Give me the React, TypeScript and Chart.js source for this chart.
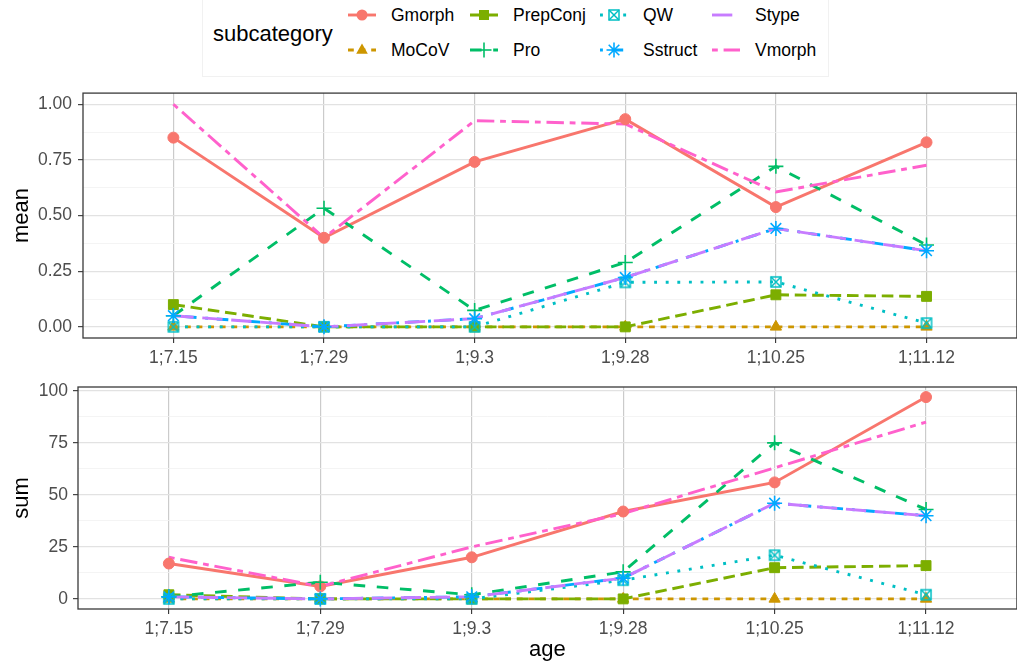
import React, { useEffect, useRef } from 'react';
import { Chart, registerables } from 'chart.js';

Chart.register(...registerables);

// ---- data -------------------------------------------------------------
const ages = ['1;7.15', '1;7.29', '1;9.3', '1;9.28', '1;10.25', '1;11.12'];
const subcategories = ['Gmorph', 'MoCoV', 'PrepConj', 'Pro', 'QW', 'Sstruct', 'Stype', 'Vmorph'];

// mean per age
const gmorphMean = [0.85, 0.4, 0.741, 0.933, 0.538, 0.829];
const mocovMean = [0, 0, 0, 0, 0, 0];
const prepConjMean = [0.1, 0, 0, 0, 0.144, 0.137];
const proMean = [0.05, 0.533, 0.074, 0.289, 0.721, 0.368];
const qwMean = [0, 0, 0, 0.2, 0.202, 0.017];
const sstructMean = [0.05, 0, 0.037, 0.222, 0.442, 0.342];
const stypeMean = [0.05, 0, 0.037, 0.222, 0.442, 0.342];
const vmorphMean = [1.0, 0.4, 0.926, 0.911, 0.606, 0.726];

// sum per age
const gmorphSum = [17, 6, 20, 42, 56, 97];
const mocovSum = [0, 0, 0, 0, 0, 0];
const prepConjSum = [2, 0, 0, 0, 15, 16];
const proSum = [1, 8, 2, 13, 75, 43];
const qwSum = [0, 0, 0, 9, 21, 2];
const sstructSum = [1, 0, 1, 10, 46, 40];
const stypeSum = [1, 0, 1, 10, 46, 40];
const vmorphSum = [20, 6, 25, 41, 63, 85];

const meanTicks = [0, 0.25, 0.5, 0.75, 1];
const sumTicks = [0, 25, 50, 75, 100];

const meanSeries = [gmorphMean, mocovMean, prepConjMean, proMean, qwMean, sstructMean, stypeMean, vmorphMean];
const sumSeries = [gmorphSum, mocovSum, prepConjSum, proSum, qwSum, sstructSum, stypeSum, vmorphSum];

// ---- styling ----------------------------------------------------------
const FONT = '"Liberation Sans", Arial, Helvetica, sans-serif';
const colors = ['#F8766D', '#CD9600', '#7CAE00', '#00BE67', '#00BFC4', '#00A9FF', '#C77CFF', '#FF61CC'];
const LW = 2.9;
const dashUnits = [[], [2, 2], [4, 2], [4, 4], [1, 3], [1, 3, 4, 3], [7, 3], [2, 2, 6, 2]];
const dashes = dashUnits.map((p) => p.map((d) => d * LW));
const shapes = ['circle', 'triangle', 'rect', 'cross', 'boxX', 'star', null, null];

function makeBoxX(color: string): HTMLCanvasElement {
  const c = document.createElement('canvas');
  c.width = 14;
  c.height = 14;
  const g = c.getContext('2d')!;
  g.strokeStyle = color;
  g.lineWidth = 1.5;
  g.strokeRect(2, 2, 10, 10);
  g.beginPath();
  g.moveTo(2, 2);
  g.lineTo(12, 12);
  g.moveTo(12, 2);
  g.lineTo(2, 12);
  g.stroke();
  return c;
}

function pointOptions(shape: string | null, color: string, boxImg: HTMLCanvasElement) {
  switch (shape) {
    case 'circle':
      return { pointStyle: 'circle', pointRadius: 5.5, pointBackgroundColor: color, pointBorderColor: color, pointBorderWidth: 1 };
    case 'triangle':
      return { pointStyle: 'triangle', pointRadius: 6.5, pointBackgroundColor: color, pointBorderColor: color, pointBorderWidth: 1 };
    case 'rect':
      return { pointStyle: 'rect', pointRadius: 7, pointBackgroundColor: color, pointBorderColor: color, pointBorderWidth: 1 };
    case 'cross':
      return { pointStyle: 'cross', pointRadius: 7.5, pointBackgroundColor: 'rgba(0,0,0,0)', pointBorderColor: color, pointBorderWidth: 1.6 };
    case 'boxX':
      return { pointStyle: boxImg, pointRadius: 6, pointBackgroundColor: color, pointBorderColor: color, pointBorderWidth: 1 };
    case 'star':
      return { pointStyle: 'star', pointRadius: 7.5, pointBackgroundColor: 'rgba(0,0,0,0)', pointBorderColor: color, pointBorderWidth: 1.6 };
    default:
      return null;
  }
}

function buildDatasets(series: number[][], boxImg: HTMLCanvasElement) {
  const lines = series.map((vals, i) => ({
    label: subcategories[i],
    data: vals.map((v, k) => ({ x: k, y: v })),
    borderColor: colors[i],
    borderWidth: LW,
    borderDash: dashes[i],
    borderCapStyle: 'butt',
    pointRadius: 0,
    tension: 0,
    fill: false,
    order: 100 - i,
  }));
  const points: any[] = [];
  series.forEach((vals, i) => {
    const p = pointOptions(shapes[i], colors[i], boxImg);
    if (!p) return;
    points.push({
      label: subcategories[i] + ' points',
      data: vals.map((v, k) => ({ x: k, y: v })),
      showLine: false,
      order: 50 - i,
      ...p,
    });
  });
  return [...lines, ...points];
}

const panelBorder = {
  id: 'panelBorder',
  afterDraw(chart: any) {
    const { ctx, chartArea: a } = chart;
    ctx.save();
    ctx.strokeStyle = '#3a3a3a';
    ctx.lineWidth = 1.3;
    ctx.strokeRect(a.left, a.top, a.right - a.left, a.bottom - a.top);
    ctx.restore();
  },
};

type PanelCfg = {
  series: number[][];
  majors: number[];
  decimals: number;
  yTitle: string;
  xTitle?: string;
  yWidth: number;
  xHeight: number;
  padTop: number;
  tickPad: number;
  width: number;
  height: number;
  top: number;
};

function Panel(cfg: PanelCfg) {
  const ref = useRef<HTMLCanvasElement>(null);
  useEffect(() => {
    const boxImg = makeBoxX(colors[4]);
    const { majors } = cfg;
    const lo = Math.min(...cfg.series.flat());
    const hi = Math.max(...cfg.series.flat());
    const ext = (hi - lo) * 0.05;
    const minors: number[] = [];
    for (let k = 0; k < majors.length - 1; k++) minors.push((majors[k] + majors[k + 1]) / 2);
    const gridVals = [...majors, ...minors].sort((a, b) => a - b);
    const isMajor = (v: number) => majors.some((m) => Math.abs(m - v) < 1e-9);
    const tickFont = { family: FONT, size: 17.5, lineHeight: 1 };
    const titleFont = { family: FONT, size: 22, lineHeight: 1 };

    const chart = new Chart(ref.current!, {
      type: 'line',
      data: { datasets: buildDatasets(cfg.series, boxImg) as any },
      plugins: [panelBorder],
      options: {
        animation: false,
        responsive: false,
        devicePixelRatio: 1,
        events: [],
        layout: { padding: { top: cfg.padTop, left: 0, right: 5, bottom: 0 } },
        plugins: { legend: { display: false }, tooltip: { enabled: false } },
        scales: {
          x: {
            type: 'linear',
            bounds: 'data',
            min: -0.6,
            max: ages.length - 1 + 0.6,
            afterBuildTicks: (s: any) => {
              s.ticks = ages.map((_, i) => ({ value: i }));
            },
            afterFit: (s: any) => {
              s.height = cfg.xHeight;
              s.paddingLeft = 0;
              s.paddingRight = 0;
            },
            ticks: {
              autoSkip: false,
              maxRotation: 0,
              minRotation: 0,
              color: '#4d4d4d',
              font: tickFont,
              padding: 6,
              callback: (v: any) => ages[v] ?? '',
            },
            grid: { color: '#cbcbcb', lineWidth: 1.2, tickColor: '#333333', tickLength: 5, tickWidth: 1.1 },
            border: { display: false },
            title: cfg.xTitle
              ? { display: true, text: cfg.xTitle, color: '#000', font: titleFont, padding: { top: 0, bottom: 5 } }
              : { display: false },
          },
          y: {
            type: 'linear',
            bounds: 'data',
            min: lo - ext,
            max: hi + ext,
            afterBuildTicks: (s: any) => {
              s.ticks = gridVals.map((v) => ({ value: v }));
            },
            afterFit: (s: any) => {
              s.width = cfg.yWidth;
              s.paddingTop = 0;
              s.paddingBottom = 0;
            },
            ticks: {
              color: '#4d4d4d',
              font: tickFont,
              padding: cfg.tickPad,
              callback: (v: any) => (isMajor(v) ? Number(v).toFixed(cfg.decimals) : ''),
            },
            grid: {
              color: (c: any) => (isMajor(c.tick.value) ? '#e2e2e2' : '#f1f1f1'),
              lineWidth: (c: any) => (isMajor(c.tick.value) ? 1.3 : 0.8),
              tickColor: (c: any) => (isMajor(c.tick.value) ? '#333333' : 'rgba(0,0,0,0)'),
              tickLength: 5,
              tickWidth: 1.1,
            },
            border: { display: false },
            title: { display: true, text: cfg.yTitle, color: '#000', font: titleFont, padding: { top: 11, bottom: 0 } },
          },
        },
      } as any,
    });
    return () => chart.destroy();
  }, []);
  return (
    <canvas
      ref={ref}
      width={cfg.width}
      height={cfg.height}
      style={{ position: 'absolute', left: 0, top: cfg.top, width: cfg.width, height: cfg.height, display: 'block' }}
    />
  );
}

// ---- legend -----------------------------------------------------------
function KeyMarker({ shape, color }: { shape: string | null; color: string }) {
  const cx = 14;
  const cy = 10;
  switch (shape) {
    case 'circle':
      return <circle cx={cx} cy={cy} r={5.5} fill={color} />;
    case 'triangle':
      return <polygon points={`${cx},${cy - 6.5} ${cx + 5.8},${cy + 3.8} ${cx - 5.8},${cy + 3.8}`} fill={color} />;
    case 'rect':
      return <rect x={cx - 5} y={cy - 5} width={10} height={10} fill={color} />;
    case 'cross':
      return (
        <g stroke={color} strokeWidth={1.6}>
          <line x1={cx - 7.5} y1={cy} x2={cx + 7.5} y2={cy} />
          <line x1={cx} y1={cy - 7.5} x2={cx} y2={cy + 7.5} />
        </g>
      );
    case 'boxX':
      return (
        <g stroke={color} strokeWidth={1.5} fill="#fff">
          <rect x={cx - 5} y={cy - 5} width={10} height={10} />
          <line x1={cx - 5} y1={cy - 5} x2={cx + 5} y2={cy + 5} />
          <line x1={cx + 5} y1={cy - 5} x2={cx - 5} y2={cy + 5} />
        </g>
      );
    case 'star': {
      const d = 7.5 * Math.SQRT1_2;
      return (
        <g stroke={color} strokeWidth={1.6}>
          <line x1={cx - 7.5} y1={cy} x2={cx + 7.5} y2={cy} />
          <line x1={cx} y1={cy - 7.5} x2={cx} y2={cy + 7.5} />
          <line x1={cx - d} y1={cy - d} x2={cx + d} y2={cy + d} />
          <line x1={cx + d} y1={cy - d} x2={cx - d} y2={cy + d} />
        </g>
      );
    }
    default:
      return null;
  }
}

const legendCols = [348, 470, 600, 712];
const legendRows = [15, 50];

function Legend() {
  return (
    <>
      <div
        style={{
          position: 'absolute',
          left: 202,
          top: -1,
          width: 627,
          height: 78,
          border: '1px solid #f1f1f1',
          boxSizing: 'border-box',
        }}
      />
      <div
        style={{
          position: 'absolute',
          left: 213,
          top: 20,
          height: 28,
          lineHeight: '28px',
          fontSize: 22,
          fontFamily: FONT,
          color: '#000',
          whiteSpace: 'nowrap',
        }}
      >
        subcategory
      </div>
      {subcategories.map((name, i) => {
        const col = Math.floor(i / 2);
        const row = i % 2;
        const x = legendCols[col];
        const y = legendRows[row];
        return (
          <React.Fragment key={name}>
            <svg
              width={28}
              height={20}
              style={{ position: 'absolute', left: x, top: y - 10, overflow: 'visible' }}
            >
              <line
                x1={0}
                y1={10}
                x2={28}
                y2={10}
                stroke={colors[i]}
                strokeWidth={LW}
                strokeDasharray={dashes[i].length ? dashes[i].join(' ') : undefined}
              />
              <KeyMarker shape={shapes[i]} color={colors[i]} />
            </svg>
            <div
              style={{
                position: 'absolute',
                left: x + 43,
                top: y - 12,
                height: 24,
                lineHeight: '24px',
                fontSize: 17.5,
                fontFamily: FONT,
                color: '#000',
                whiteSpace: 'nowrap',
              }}
            >
              {name}
            </div>
          </React.Fragment>
        );
      })}
    </>
  );
}

export default function App() {
  return (
    <div
      style={{
        position: 'fixed',
        left: 0,
        top: 0,
        width: 1017,
        height: 666,
        overflow: 'hidden',
        background: '#ffffff',
      }}
    >
      <Legend />
      <Panel
        series={meanSeries}
        majors={meanTicks}
        decimals={2}
        yTitle="mean"
        yWidth={83}
        xHeight={30}
        padTop={6}
        tickPad={6}
        width={1026}
        height={284}
        top={84}
      />
      <Panel
        series={sumSeries}
        majors={sumTicks}
        decimals={0}
        yTitle="sum"
        xTitle="age"
        yWidth={78}
        xHeight={57}
        padTop={10}
        tickPad={5}
        width={1026}
        height={289}
        top={377}
      />
    </div>
  );
}
